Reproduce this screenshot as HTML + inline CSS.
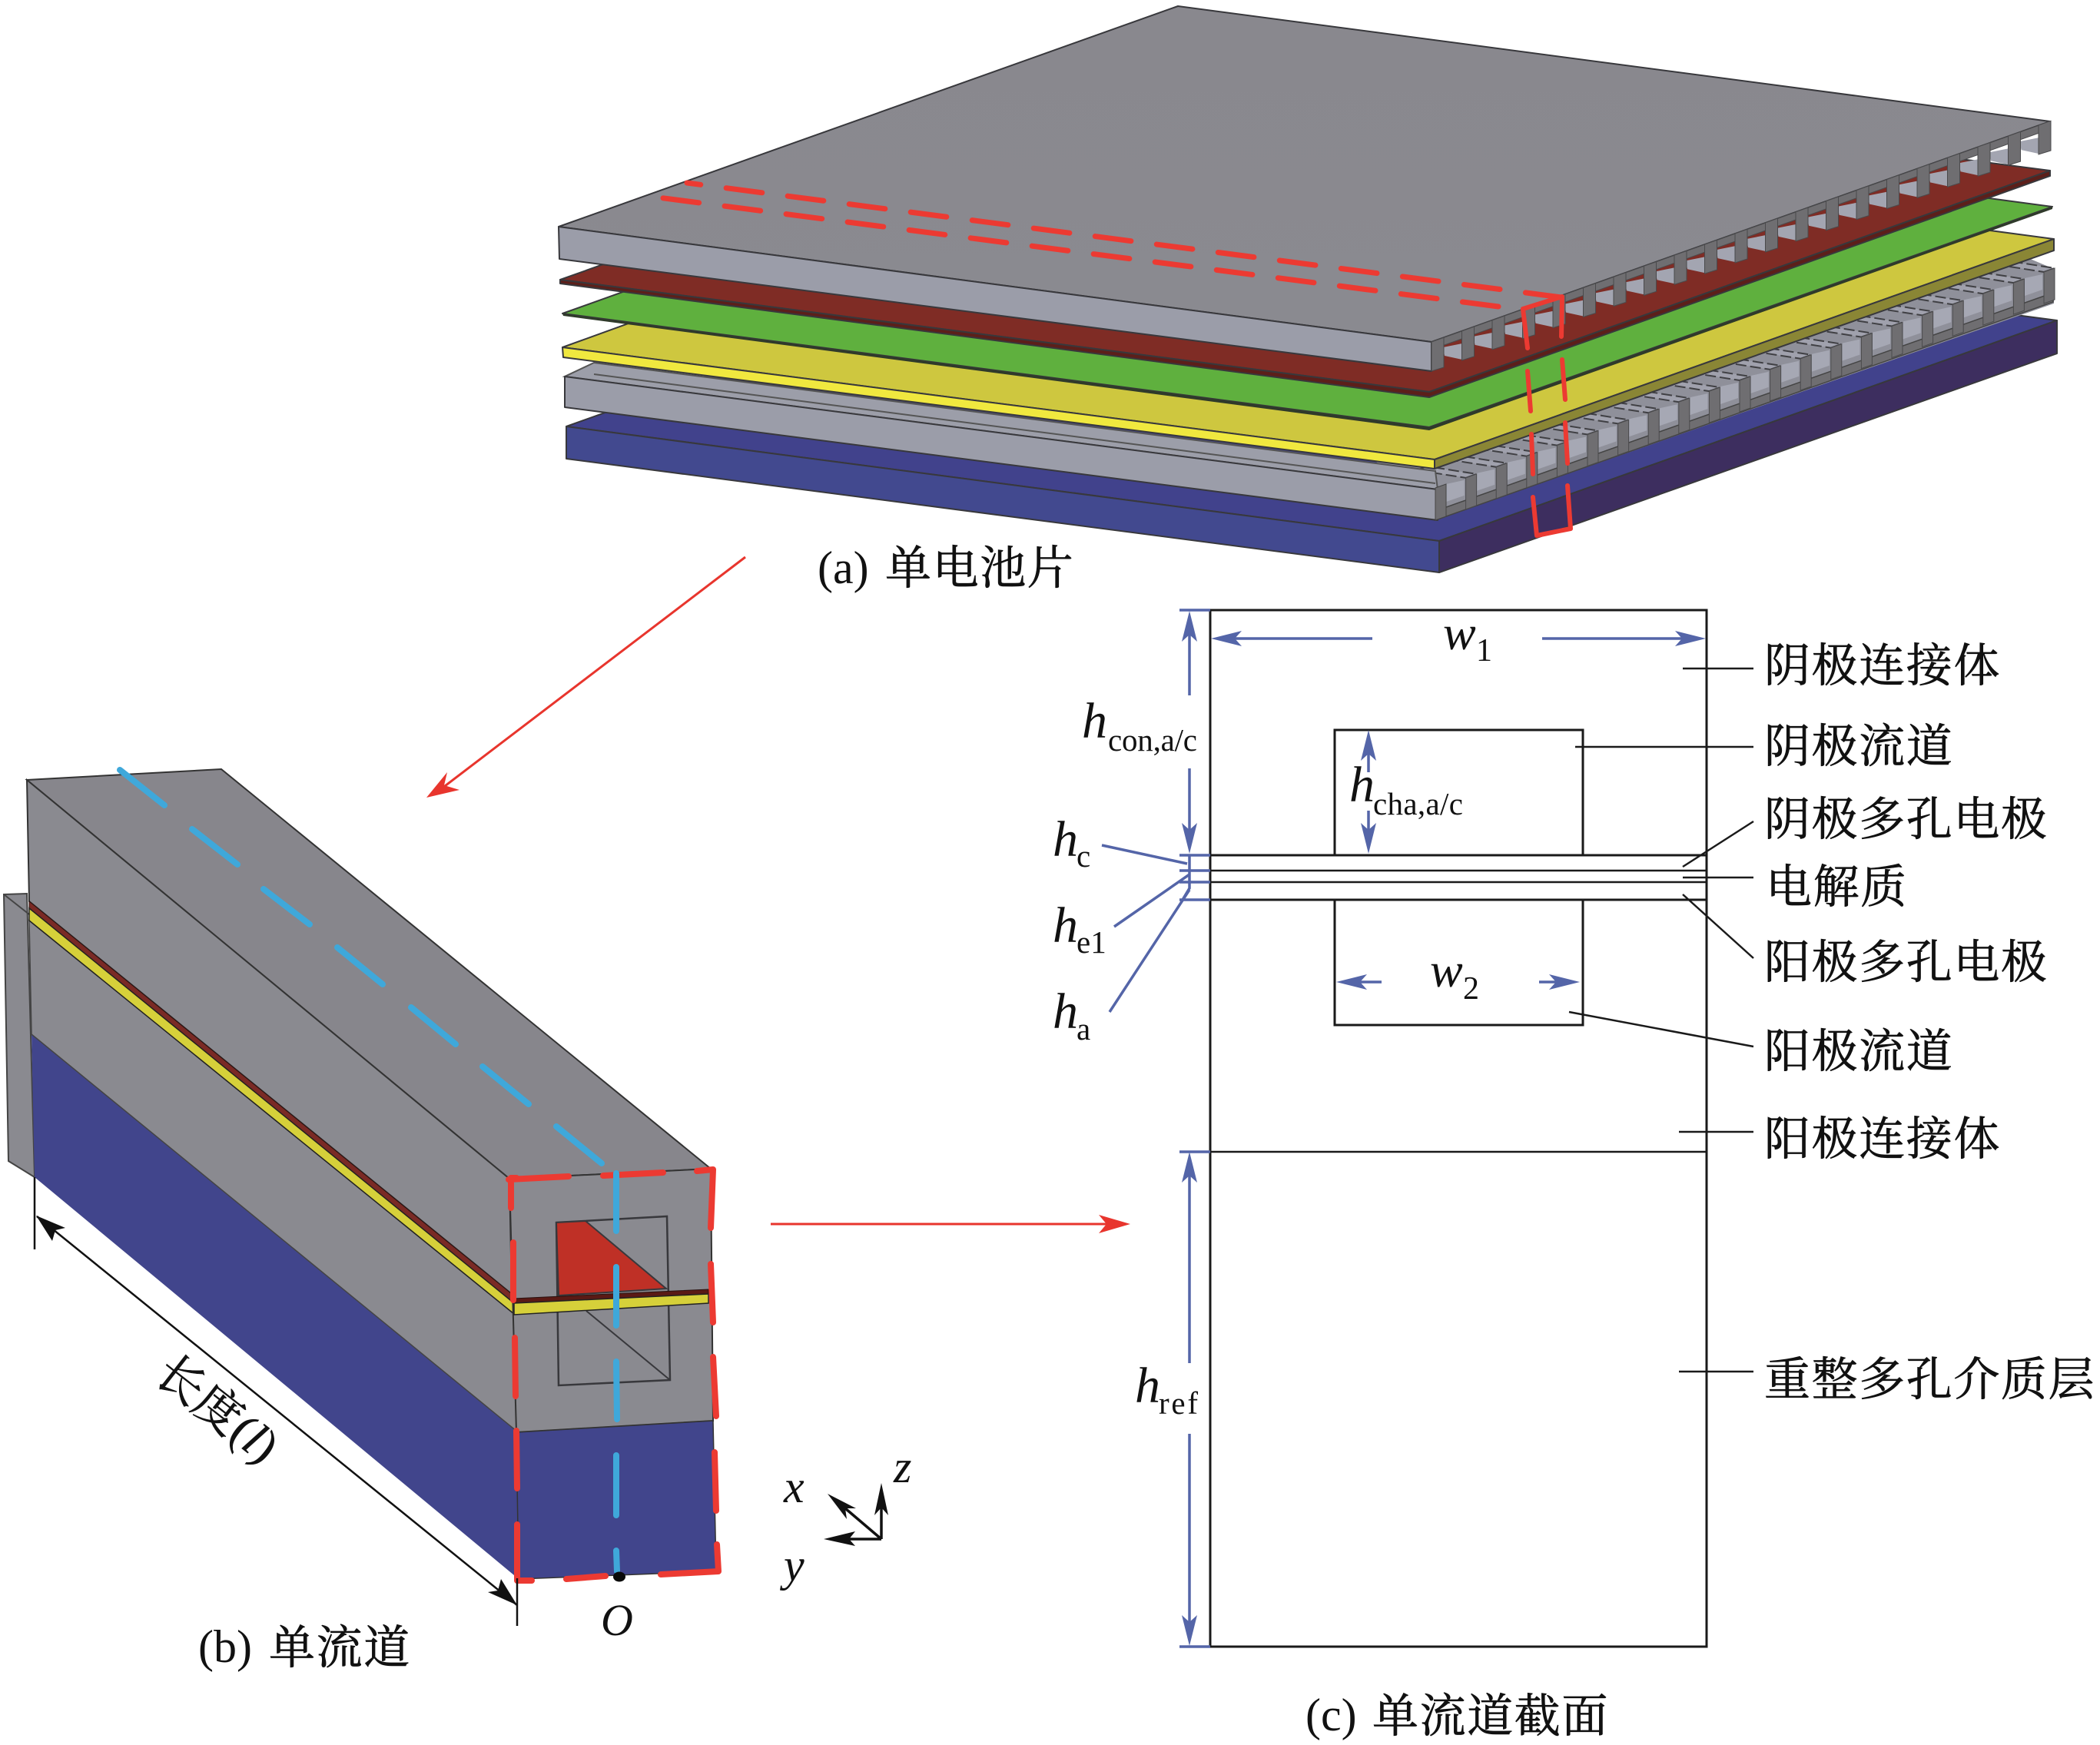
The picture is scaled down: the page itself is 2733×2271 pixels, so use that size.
<!DOCTYPE html>
<html lang="zh">
<head>
<meta charset="utf-8">
<title>单电池片、单流道与单流道截面</title>
<style>
html,body{margin:0;padding:0;background:#fff}
svg{display:block}
text{font-family:"Liberation Serif","Noto Serif CJK SC",serif;fill:#111}
.cjk{font-family:"Liberation Serif","Noto Serif CJK SC",serif;font-size:60px;letter-spacing:1.6px;stroke:#111;stroke-width:.7px}
.i{font-style:italic}
.edge{stroke:#38383c;stroke-width:2;stroke-linejoin:round}
.k{stroke:#1a1a1a;stroke-width:3;fill:none}
.k2{stroke:#1a1a1a;stroke-width:2.5;fill:none}
.b{stroke:#5465a8;stroke-width:3.5;fill:none}
.bh{fill:#5465a8;stroke:none}
.r{stroke:#ec3a32;stroke-width:7;fill:none;stroke-linecap:round;stroke-linejoin:round}
.r2{stroke:#ec3a32;stroke-width:8;fill:none;stroke-linecap:round;stroke-linejoin:round}
.c{stroke:#3fa8da;stroke-width:8;fill:none;stroke-linecap:round}
</style>
</head>
<body>
<svg xmlns="http://www.w3.org/2000/svg" width="2733" height="2271" viewBox="0 0 2733 2271">
<defs>
  <polygon id="tk" points="0,0 16,-5.7 16,33 0,38" fill="#6f6e71" stroke="#4a4a4c" stroke-width="1"/>
  <g id="tt">
    <polygon points="15,7 40,2 40,23 17,18" fill="#a3a5b1"/>
    <use href="#tk"/>
  </g>
  <g id="bt">
    <polygon points="0,-41 14,-46 -50,-56 -64,-51" fill="#a0a1ad" stroke="#404044" stroke-width="2" stroke-dasharray="14 5"/>
    <polygon points="-25,-33 -2,-38 -2,-18 -25,-10" fill="#a6a8b4"/>
    <polygon points="0,0 14,-5 14,-46 0,-41" fill="#6f6e71" stroke="#4a4a4c" stroke-width="1"/>
  </g>
  <polygon id="ah" points="0,0 40,-10 31,0 40,10" class="bh"/>
  <linearGradient id="topg" x1="0" y1="0" x2="0" y2="1"><stop offset="0" stop-color="#89888e"/><stop offset="1" stop-color="#8a8a90"/></linearGradient>
</defs>

<!-- (a) blue layer -->
<polygon class="edge" points="737,555 1541,268 2677,417 1873,704" fill="#41428c"/>
<polygon class="edge" points="737,555 1873,704 1873,745 737,597" fill="#42498f"/>
<polygon class="edge" points="1873,704 2677,417 2677,460 1873,745" fill="#3d2e5f"/>

<!-- (a) lower grey channel plate -->
<polygon points="1780,590 2640,336 2673,350 2673,395 1868,677" fill="#8f909a"/>
<polygon points="1868,677 2672,393 2672,381 1868,665" fill="#6f6e71" stroke="#444" stroke-width="1.5"/>
<use href="#bt" x="2660" y="395"/><use href="#bt" x="2620.4" y="409.1"/><use href="#bt" x="2580.8" y="423.2"/><use href="#bt" x="2541.2" y="437.3"/><use href="#bt" x="2501.6" y="451.4"/><use href="#bt" x="2462" y="465.5"/><use href="#bt" x="2422.4" y="479.6"/><use href="#bt" x="2382.8" y="493.7"/><use href="#bt" x="2343.2" y="507.8"/><use href="#bt" x="2303.6" y="521.9"/><use href="#bt" x="2264" y="536"/><use href="#bt" x="2224.4" y="550.1"/><use href="#bt" x="2184.8" y="564.2"/><use href="#bt" x="2145.2" y="578.3"/><use href="#bt" x="2105.6" y="592.4"/><use href="#bt" x="2066" y="606.5"/><use href="#bt" x="2026.4" y="620.6"/><use href="#bt" x="1986.8" y="634.7"/><use href="#bt" x="1947.2" y="648.8"/><use href="#bt" x="1907.6" y="662.9"/>
<polygon points="773,472 1868,613 1871,637 735,490" fill="#9c9ea9" stroke="#555" stroke-width="2"/>
<line x1="773" y1="487" x2="1868" y2="629" stroke="#555" stroke-width="2"/>
<polygon class="edge" points="735,490 1871,637 1871,677 735,530" fill="#9b9da9"/>
<polygon points="1868,635 1882,630 1882,672 1868,677" fill="#6f6e71" stroke="#444" stroke-width="1"/>

<!-- (a) yellow layer -->
<polygon class="edge" points="732,452 1538,160 2673,311 1867,598" fill="#cec73f"/>
<polygon class="edge" points="732,452 1867,598 1867,610 733,465" fill="#f0e83f"/>
<polygon class="edge" points="1867,598 2673,311 2673,326 1867,610" fill="#8a8635"/>

<!-- (a) green layer -->
<polygon class="edge" points="732,408 1543,118 2671,269 1860,556" fill="#5fb03e"/>
<polygon points="732,408 1860,556 2671,269 2671,272 1860,560 733,411" fill="#2f3a2a"/>

<!-- (a) maroon layer -->
<polygon class="edge" points="729,364 1537,76 2668,222 1860,510" fill="#7f2c25"/>
<polygon class="edge" points="729,364 1860,510 2668,222 2668,229 1860,517 729,369" fill="#5c1f1a"/>

<!-- (a) top plate -->
<polygon class="edge" points="727,295 1533,8 2668,158 1863,445" fill="url(#topg)"/>
<polygon class="edge" points="727,295 1863,445 1863,483 728,337" fill="#9b9da9"/>
<polygon points="1863,445 2668,158 2668,168 1863,455" fill="#6f6e71" stroke="#4a4a4c" stroke-width="1"/>
<use href="#tt" x="1863" y="445"/><use href="#tt" x="1902.5" y="430.9"/><use href="#tt" x="1942" y="416.8"/><use href="#tt" x="1981.5" y="402.7"/><use href="#tt" x="2021" y="388.6"/><use href="#tt" x="2060.5" y="374.5"/><use href="#tt" x="2100" y="360.4"/><use href="#tt" x="2139.5" y="346.3"/><use href="#tt" x="2179" y="332.2"/><use href="#tt" x="2218.5" y="318.1"/><use href="#tt" x="2258" y="304"/><use href="#tt" x="2297.5" y="289.9"/><use href="#tt" x="2337" y="275.8"/><use href="#tt" x="2376.5" y="261.7"/><use href="#tt" x="2416" y="247.6"/><use href="#tt" x="2455.5" y="233.5"/><use href="#tt" x="2495" y="219.4"/><use href="#tt" x="2534.5" y="205.3"/><use href="#tt" x="2574" y="191.2"/><use href="#tt" x="2613.5" y="177.1"/><use href="#tk" x="2653" y="163"/>

<!-- (a) red markings -->
<line class="r" x1="2032" y1="387" x2="894" y2="238" stroke-dasharray="47 33.7"/>
<line class="r" x1="1950" y1="399" x2="849" y2="256" stroke-dasharray="47 33.7"/>
<path class="r" style="stroke-width:6" d="M1982,402L2033,386L2032,438"/>
<path class="r" style="stroke-width:6" d="M1982,402L1988,453M1988,483L1992,535M1993,565L1995,617M1995,647L2000,697L2044,688L2040,632M2040,603L2037,550M2037,520L2033,468"/>

<text x="1064" y="759" font-size="60">(a)</text>
<text x="1152" y="760" class="cjk">单电池片</text>

<!-- red arrows -->
<line x1="970" y1="725" x2="575" y2="1026" stroke="#e8352d" stroke-width="3"/>
<polygon points="555,1038 582,1005 578,1022 598,1028" fill="#e8352d"/>
<line x1="1003" y1="1593" x2="1445" y2="1593" stroke="#e8352d" stroke-width="3"/>
<polygon points="1471,1593 1430,1581 1440,1593 1430,1605" fill="#e8352d"/>

<!-- (b) channel -->
<polygon points="5,1164 35,1163 45,1532 11,1511" fill="#8a8a90" stroke="#444" stroke-width="2"/>
<line x1="5" y1="1164" x2="38" y2="1190" stroke="#444" stroke-width="2"/>
<polygon points="41,1346 673,1863 675,2055 45,1532" fill="#41458c"/>
<polygon points="38,1198 669,1710 673,1863 41,1346" fill="#8a8a90" stroke="#444" stroke-width="1.5"/>
<polygon points="35,1015 288,1001 925,1521 663,1534" fill="#87868c" stroke="#333" stroke-width="2"/>
<polygon points="35,1015 663,1534 666,1684 38,1173" fill="#8a8a90" stroke="#333" stroke-width="2"/>
<polygon points="38,1173 666,1684 669,1696 38,1182" fill="#7a2a25" stroke="#2a1210" stroke-width="1"/>
<polygon points="38,1182 669,1696 669,1710 38,1198" fill="#d6d03a" stroke="#222" stroke-width="1.5"/>

<polygon points="663,1534 925,1521 928,1849 672,1864" fill="#8a8a90" stroke="#333" stroke-width="2"/>
<polygon points="672,1864 928,1849 932,2045 675,2055" fill="#41458c" stroke="#333" stroke-width="1.5"/>
<polygon points="724,1591 868,1583 872,1796 727,1803" fill="none" stroke="#38383c" stroke-width="2.5"/>
<polygon points="724,1591 762,1589 867,1677 727,1686" fill="#bf3026" stroke="#38383c" stroke-width="2"/>
<line x1="763" y1="1706" x2="872" y2="1796" stroke="#38383c" stroke-width="2"/>
<polygon points="668,1690 922,1678 922,1684 669,1696" fill="#5a1a15" stroke="#2a1210" stroke-width="1"/>
<polygon points="669,1696 922,1684 922,1696 669,1711" fill="#d6d03a" stroke="#222" stroke-width="1.5"/>

<path class="r2" d="M662,1535L740,1531M785,1530L863,1526M907,1524L928,1522L925,1598M925,1645L928,1721M928,1766L932,1843M930,1890L932,1966M933,2010L935,2045L860,2049M788,2051L737,2055M692,2057L673,2057L673,1984M673,1937L672,1862M671,1817L670,1741M668,1692L668,1617M665,1572L665,1533L672,1533"/>
<path class="c" d="M156,1002L214,1048M250,1079L309,1125M343,1157L403,1203M439,1233L498,1281M535,1311L593,1359M628,1388L688,1437M724,1466L783,1514M802,1527L802,1602M802,1649L802,1725M802,1772L803,1847M802,1894L802,1972M802,2018L803,2045"/>
<ellipse cx="806" cy="2052" rx="8" ry="6.5" fill="#0a0a0a"/>

<line x1="45" y1="1532" x2="45" y2="1626" stroke="#111" stroke-width="2.5"/>
<line x1="673" y1="2054" x2="673" y2="2116" stroke="#111" stroke-width="2.5"/>
<line x1="48" y1="1583" x2="673" y2="2089" stroke="#111" stroke-width="2.5"/>
<polygon points="47,1582 85,1598 72,1601 68,1615" fill="#111"/>
<polygon points="673,2089 635,2072 648,2070 652,2055" fill="#111"/>
<text x="281" y="1854" font-size="62" text-anchor="middle" transform="rotate(38 281 1836)" stroke="#111" stroke-width=".5">长度(<tspan class="i">l</tspan>)</text>
<text x="782" y="2128" font-size="58" class="i">O</text>
<text x="258" y="2163" font-size="60">(b)</text>
<text x="350" y="2165" class="cjk">单流道</text>

<!-- axes -->
<path d="M1147,2003V1960M1147,2003L1100,1963M1147,2003H1100" stroke="#111" stroke-width="3.5" fill="none"/>
<polygon points="1147,1930 1156,1972 1147,1962 1138,1972" fill="#111"/>
<polygon points="1077,1944 1114,1963 1100,1963 1102,1977" fill="#111"/>
<polygon points="1072,2003 1113,1993 1105,2003 1113,2012" fill="#111"/>
<text x="1020" y="1955" font-size="60" class="i">x</text>
<text x="1163" y="1929" font-size="60" class="i">z</text>
<text x="1020" y="2057" font-size="60" class="i">y</text>

<!-- (c) cross section -->
<rect x="1575" y="794" width="646" height="1349" class="k"/>
<line x1="1575" y1="1113" x2="2221" y2="1113" class="k"/>
<line x1="1575" y1="1133" x2="2221" y2="1133" class="k2"/>
<line x1="1575" y1="1148" x2="2221" y2="1148" class="k2"/>
<line x1="1575" y1="1171" x2="2221" y2="1171" class="k"/>
<line x1="1575" y1="1499" x2="2221" y2="1499" class="k2"/>
<path d="M1737,1113V950H2060V1113" class="k"/>
<path d="M1737,1171V1334H2060V1171" class="k"/>

<!-- blue dimensions -->
<path class="b" d="M1535,794H1575M1535,1113H1575M1535,1133H1575M1535,1148H1575M1535,1171H1575M1535,1499H1575M1535,2143H1575"/>
<path class="b" d="M1548,815V905M1548,1000V1090M1548,1113V1156L1539,1171M1434,1100L1545,1124M1450,1206L1548,1138M1444,1317L1548,1158"/>
<path class="b" d="M1600,831H1786M2007,831H2196M1781,975V1005M1781,1055V1085M1765,1278H1798M2003,1278H2030M1548,1525V1774M1548,1866V2115"/>
<use href="#ah" transform="translate(1576,831)"/>
<use href="#ah" transform="translate(2220,831) rotate(180)"/>
<use href="#ah" transform="translate(1548,795) rotate(90)"/>
<use href="#ah" transform="translate(1548,1111) rotate(-90)"/>
<use href="#ah" transform="translate(1781,950) rotate(90)"/>
<use href="#ah" transform="translate(1781,1111) rotate(-90)"/>
<use href="#ah" transform="translate(1739,1278)"/>
<use href="#ah" transform="translate(2056,1278) rotate(180)"/>
<use href="#ah" transform="translate(1548,1499) rotate(90)"/>
<use href="#ah" transform="translate(1548,2142) rotate(-90)"/>

<text x="1878" y="845" font-size="64" class="i">w</text><text x="1921" y="860" font-size="42">1</text>
<text x="1861" y="1284" font-size="64" class="i">w</text><text x="1904" y="1300" font-size="42">2</text>
<text x="1408" y="960" font-size="66" class="i">h</text><text x="1442" y="977" font-size="41" textLength="116">con,a/c</text>
<text x="1756" y="1043" font-size="66" class="i">h</text><text x="1787" y="1060" font-size="41" textLength="117">cha,a/c</text>
<text x="1370" y="1114" font-size="66" class="i">h</text><text x="1401" y="1128" font-size="41">c</text>
<text x="1370" y="1226" font-size="66" class="i">h</text><text x="1401" y="1240" font-size="41">e1</text>
<text x="1370" y="1338" font-size="66" class="i">h</text><text x="1401" y="1353" font-size="41">a</text>
<text x="1477" y="1825" font-size="66" class="i">h</text><text x="1508" y="1840" font-size="41" textLength="51">ref</text>

<!-- leaders -->
<path class="k2" d="M2190,870H2282M2050,972H2282M2190,1128L2282,1069M2190,1142H2282M2190,1164L2282,1247M2042,1317L2282,1362M2185,1473H2282M2185,1785H2282"/>

<text x="2296" y="887" class="cjk">阴极连接体</text>
<text x="2296" y="992" class="cjk">阴极流道</text>
<text x="2296" y="1087" class="cjk">阴极多孔电极</text>
<text x="2298" y="1175" class="cjk">电解质</text>
<text x="2296" y="1273" class="cjk">阳极多孔电极</text>
<text x="2296" y="1389" class="cjk">阳极流道</text>
<text x="2296" y="1503" class="cjk">阳极连接体</text>
<text x="2296" y="1816" class="cjk">重整多孔介质层</text>

<text x="1699" y="2252" font-size="60">(c)</text>
<text x="1786" y="2254" class="cjk">单流道截面</text>
</svg>
</body>
</html>
